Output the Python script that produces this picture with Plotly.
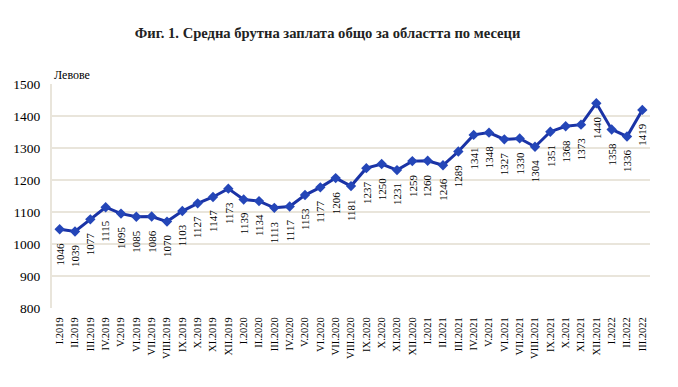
import plotly.graph_objects as go

categories = ["I.2019", "II.2019", "III.2019", "IV.2019", "V.2019", "VI.2019", "VII.2019", "VIII.2019",
              "IX.2019", "X.2019", "XI.2019", "XII.2019",
              "I.2020", "II.2020", "III.2020", "IV.2020", "V.2020", "VI.2020", "VII.2020", "VIII.2020",
              "IX.2020", "X.2020", "XI.2020", "XII.2020",
              "I.2021", "II.2021", "III.2021", "IV.2021", "V.2021", "VI.2021", "VII.2021", "VIII.2021",
              "IX.2021", "X.2021", "XI.2021", "XII.2021",
              "I.2022", "II.2022", "III.2022"]
values = [1046, 1039, 1077, 1115, 1095, 1085, 1086, 1070, 1103, 1127, 1147, 1173,
          1139, 1134, 1113, 1117, 1153, 1177, 1206, 1181, 1237, 1250, 1231, 1259,
          1260, 1246, 1289, 1341, 1348, 1327, 1330, 1304, 1351, 1368, 1373, 1440,
          1358, 1336, 1419]
y_ticks = [800, 900, 1000, 1100, 1200, 1300, 1400, 1500]

title_text = "Фиг. 1. Средна брутна заплата общо за областта по месеци"
unit_text = "Левове"

FONT = "Liberation Serif"
GRID = "#e9e5db"

# the page body has an 8px default margin, so the figure is sized to fit inside it
W, H = 670, 379

fig = go.Figure()
fig.add_trace(go.Scatter(
    x=categories, y=values, mode="lines+markers",
    line=dict(color="#1a33a6", width=3),
    marker=dict(symbol="diamond", size=8, color="#2446b8"),
    hoverinfo="skip", showlegend=False,
))

for c, v in zip(categories, values):
    fig.add_annotation(
        x=c, y=v, xref="x", yref="y", text=str(v), showarrow=False,
        textangle=-90, yanchor="top", xanchor="center", yshift=-11,
        font=dict(family=FONT, size=11, color="#000000"),
    )

fig.add_annotation(
    x=0, y=1, xref="paper", yref="paper", text=unit_text, showarrow=False,
    xanchor="left", yanchor="bottom", yshift=0,
    font=dict(family=FONT, size=12, color="#000000"),
)

fig.update_layout(
    width=W, height=H,
    paper_bgcolor="white", plot_bgcolor="white",
    margin=dict(l=44, r=28, t=76, b=79),
    title=dict(text="<b>" + title_text + "</b>", x=0.477, xanchor="center", y=1 - 25 / H, yanchor="middle",
               font=dict(family=FONT, size=14.6, color="#222222")),
    xaxis=dict(
        type="category", range=[-0.5, len(categories) - 0.5], automargin=False,
        tickangle=-90, showgrid=False, showline=False, zeroline=False,
        ticks="outside", ticklen=4, tickcolor="rgba(0,0,0,0)",
        tickfont=dict(family=FONT, size=10.5, color="#000000"),
    ),
    yaxis=dict(
        range=[800, 1500], tickvals=y_ticks, showgrid=True, gridcolor=GRID, gridwidth=2,
        showline=True, linecolor=GRID, linewidth=2, zeroline=False, automargin=False,
        ticks="outside", ticklen=7, tickcolor="rgba(0,0,0,0)",
        tickfont=dict(family=FONT, size=13.5, color="#000000"),
    ),
)

fig.write_html("out.html")
